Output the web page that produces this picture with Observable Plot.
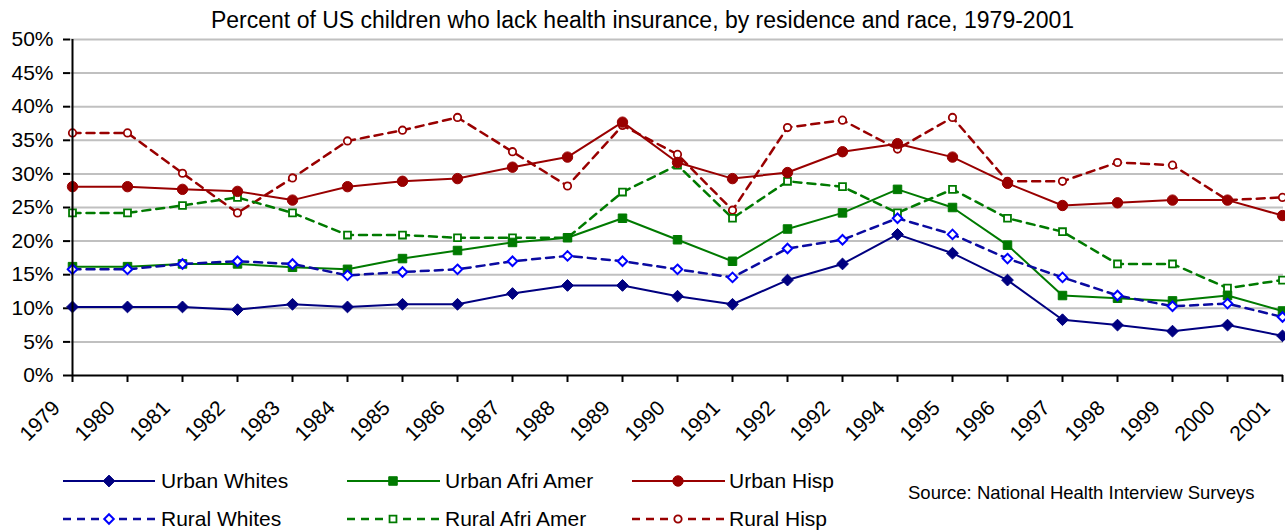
<!DOCTYPE html>
<html><head><meta charset="utf-8">
<script src="https://cdn.jsdelivr.net/npm/d3@7"></script>
<script src="https://cdn.jsdelivr.net/npm/@observablehq/plot@0.6"></script>
<style>
body{margin:0;background:#fff;font-family:"Liberation Sans",Arial,sans-serif;}
#wrap{position:relative;width:1285px;height:531px;overflow:hidden;background:#fff;}
#title{position:absolute;left:0;top:0;width:1285px;height:34px;line-height:28px;padding-top:6px;box-sizing:border-box;text-align:center;font-size:23px;color:#000;white-space:nowrap;}
#chart{position:absolute;left:0;top:34px;}
#legend{position:absolute;left:0;top:445px;}
</style></head><body>
<div id="wrap">
  <div id="title">Percent of US children who lack health insurance, by residence and race, 1979-2001</div>
  <div id="chart"></div>
  <div id="legend"></div>
</div>
<script>
// ---- data ----
const years = ["1979","1980","1981","1982","1983","1984","1985","1986","1987","1988","1989","1990","1991","1992","1992","1994","1995","1996","1997","1998","1999","2000","2001"];
const yTicks = [0,5,10,15,20,25,30,35,40,45,50];
const urbanWhites = [10.2,10.2,10.2,9.8,10.6,10.2,10.6,10.6,12.2,13.4,13.4,11.8,10.6,14.2,16.6,21.0,18.2,14.2,8.3,7.5,6.6,7.5,5.9];
const urbanAfriAmer = [16.2,16.2,16.6,16.6,16.1,15.8,17.4,18.6,19.8,20.5,23.4,20.2,17.0,21.8,24.2,27.7,25.0,19.4,11.9,11.5,11.1,11.9,9.6];
const urbanHisp = [28.1,28.1,27.7,27.4,26.1,28.1,28.9,29.3,31.0,32.5,37.7,31.7,29.3,30.2,33.3,34.5,32.5,28.6,25.3,25.7,26.1,26.1,23.8];
const ruralWhites = [15.8,15.8,16.6,17.0,16.6,14.9,15.4,15.8,17.0,17.8,17.0,15.8,14.6,18.9,20.2,23.4,21.0,17.4,14.6,11.9,10.3,10.7,8.7];
const ruralAfriAmer = [24.2,24.2,25.3,26.5,24.2,20.9,20.9,20.5,20.5,20.5,27.3,31.3,23.4,28.9,28.1,24.2,27.7,23.4,21.4,16.6,16.6,13.0,14.2];
const ruralHisp = [36.1,36.1,30.1,24.2,29.4,34.9,36.5,38.4,33.3,28.2,37.2,32.9,24.6,36.9,38.0,33.7,38.4,28.9,28.9,31.7,31.3,26.1,26.5];
const seriesNames = ["Urban Whites","Urban Afri Amer","Urban Hisp","Rural Whites","Rural Afri Amer","Rural Hisp"];
const sourceText = "Source: National Health Interview Surveys";

// ---- styles ----
const FONT = '"Liberation Sans", Arial, sans-serif';
const styles = {
  "Urban Whites":    {values: urbanWhites,   line:"#000080", stroke:"#000080", fill:"#000080", symbol:"diamond2", r:5.3, sw:1, lw:2,   dash:null},
  "Urban Afri Amer": {values: urbanAfriAmer, line:"#007a00", stroke:"#007a00", fill:"#007a00", symbol:"square",   r:4.8, sw:1, lw:2,   dash:null},
  "Urban Hisp":      {values: urbanHisp,     line:"#990000", stroke:"#990000", fill:"#990000", symbol:"circle",   r:5.2, sw:1, lw:2,   dash:null},
  "Rural Whites":    {values: ruralWhites,   line:"#0a0aa0", stroke:"#0000ff", fill:"#ffffff", symbol:"diamond2", r:4.3, sw:2, lw:2.5, dash:"8,6"},
  "Rural Afri Amer": {values: ruralAfriAmer, line:"#007a00", stroke:"#007a00", fill:"#ffffff", symbol:"square",   r:3.9, sw:1.8, lw:2.5, dash:"8,6"},
  "Rural Hisp":      {values: ruralHisp,     line:"#990000", stroke:"#990000", fill:"#ffffff", symbol:"circle",   r:3.7, sw:1.8, lw:2.5, dash:"8,6"}
};
const drawOrder = ["Rural Hisp","Rural Afri Amer","Urban Afri Amer","Rural Whites","Urban Whites","Urban Hisp"];

const idx = d3.range(years.length);
const seriesMarks = [];
for (const name of drawOrder) {
  const s = styles[name];
  seriesMarks.push(Plot.line(idx, {x: i => i, y: i => s.values[i], stroke: s.line, strokeWidth: s.lw, strokeDasharray: s.dash || undefined}));
}
for (const name of drawOrder) {
  const s = styles[name];
  seriesMarks.push(Plot.dot(idx, {x: i => i, y: i => s.values[i], symbol: s.symbol, r: s.r, fill: s.fill, stroke: s.stroke, strokeWidth: s.sw}));
}

const chart = Plot.plot({
  width: 1285, height: 411,
  marginLeft: 70, marginRight: 2, marginTop: 5, marginBottom: 70,
  style: {fontFamily: FONT, fontSize: "21px", color: "#000", background: "#fff", overflow: "visible"},
  x: {type: "point", domain: idx, padding: 0},
  y: {domain: [0, 50]},
  marks: [
    Plot.gridY(yTicks.filter(d => d > 0), {stroke: "#c0c0c0", strokeOpacity: 1, strokeWidth: 2}),
    Plot.axisY(yTicks, {tickSize: 7, tickPadding: 10, tickFormat: d => d + "%", strokeWidth: 2, label: null, fontSize: 21}),
    // tick marks only
    Plot.axisX(idx, {tickSize: 7, tickFormat: () => "", strokeWidth: 2, label: null}),
    // rotated labels only
    Plot.axisX(idx, {tickSize: 0, tickPadding: 29, tickRotate: -45, tickFormat: i => years[i], label: null, fontSize: 21, dx: -16}),
    ...seriesMarks,
    Plot.ruleX([0], {stroke: "#000", strokeWidth: 2}),
    Plot.ruleY([0], {stroke: "#000", strokeWidth: 2})
  ]
});
document.getElementById("chart").appendChild(chart);

// ---- legend ----
const symMap = {diamond2: d3.symbolDiamond2, square: d3.symbolSquare, circle: d3.symbolCircle};
const cols = [{x1:63,x2:155,mx:109,tx:161},{x1:347,x2:440,mx:393,tx:445},{x1:632,x2:725,mx:678,tx:729}];
const rows = [36, 74];
const svg = d3.select("#legend").append("svg").attr("width", 1285).attr("height", 86)
  .style("font-family", FONT).style("overflow","visible");
seriesNames.forEach((name, k) => {
  const s = styles[name];
  const c = cols[k % 3], y = rows[Math.floor(k / 3)];
  svg.append("line").attr("x1", c.x1).attr("x2", c.x2).attr("y1", y).attr("y2", y)
    .attr("stroke", s.line).attr("stroke-width", s.lw).attr("stroke-dasharray", s.dash);
  svg.append("path").attr("d", d3.symbol(symMap[s.symbol], Math.PI * s.r * s.r)())
    .attr("transform", `translate(${c.mx},${y})`).attr("fill", s.fill).attr("stroke", s.stroke).attr("stroke-width", s.sw);
  svg.append("text").attr("x", c.tx).attr("y", y).attr("dy", "0.35em").attr("font-size", 21).attr("fill", "#000").text(name);
});
svg.append("text").attr("x", 908).attr("y", 48).attr("dy", "0.35em").attr("font-size", 18.5).attr("fill", "#000").text(sourceText);
</script>
</body></html>
